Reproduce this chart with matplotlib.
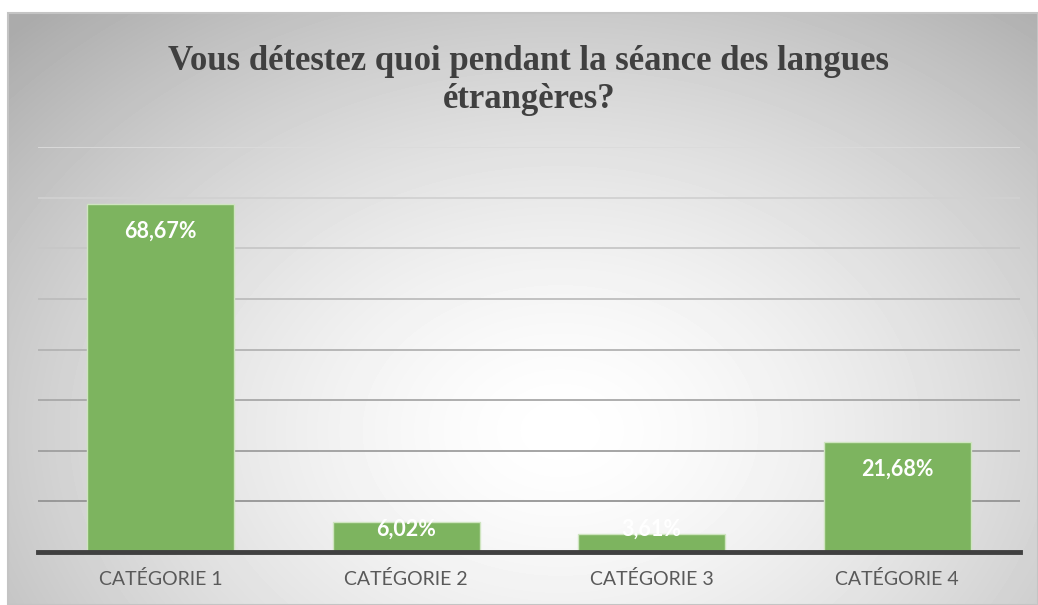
import matplotlib.pyplot as plt
import numpy as np
from matplotlib.patches import Rectangle

categories = ["CATÉGORIE 1", "CATÉGORIE 2", "CATÉGORIE 3", "CATÉGORIE 4"]
percentages = [68.67, 6.02, 3.61, 21.68]
value_labels = ["68,67%", "6,02%", "3,61%", "21,68%"]
title = "Vous détestez quoi pendant la séance des langues\nétrangères?"

W, H = 1038, 605
fig = plt.figure(figsize=(W / 100, H / 100), dpi=100)

# radial grey-to-white background, like the Office chart style
bg = fig.add_axes([0, 0, 1, 1])
bg.axis("off")
yy, xx = np.mgrid[0:H, 0:W]
r = np.sqrt(((xx - 560) / 640) ** 2 + ((yy - 430) / 470) ** 2)
img = 1 - 0.25 * np.clip(r, 0, 1.2) ** 1.5
img[yy < 13] = 1.0
img[xx < 8] = 1.0
bg.imshow(img, cmap="gray", vmin=0, vmax=1, extent=[0, W, H, 0], aspect="auto")
bg.add_patch(Rectangle((8, 13), W - 8, H - 13, fill=False, edgecolor="#c4c4c4", lw=1.5))
bg.set_xlim(0, W)
bg.set_ylim(H, 0)

fig.text(529 / W, 1 - 80 / H, title, ha="center", va="center",
         family="Liberation Serif", fontweight="bold", fontsize=25,
         color="#404040", linespacing=1.2)

ax = fig.add_axes([38 / W, 53 / H, 982 / W, 405 / H])
ax.patch.set_alpha(0)
x = np.arange(len(categories))
ax.bar(x, percentages, width=0.6, color="#7db45f", edgecolor="#cfe5c0", lw=1, zorder=2)
ax.set_xlim(-0.5, len(categories) - 0.5)
ax.set_ylim(0, 80)

# gridlines get lighter towards the top
grid_vals = np.arange(10, 81, 10)
for g in grid_vals:
    t = (g - 10) / 70
    c = 0.58 + 0.28 * t
    ax.axhline(g, color=(c, c, c), lw=1.3, zorder=1)
ax.axhline(0, color="#404040", lw=3.5, zorder=3, clip_on=False)

label_y = np.maximum(np.array(percentages) - 5.3, 4.6)
for xi, yi, lab in zip(x, label_y, value_labels):
    ax.text(xi, yi, lab, ha="center", va="center", color="white",
            family="Lato", fontweight="bold", fontsize=15.5, zorder=4)

ax.set_xticks(x)
ax.set_xticklabels(categories, family="Lato", fontsize=14, color="#595959")
ax.set_yticks([])
ax.tick_params(axis="x", length=0, pad=13)
for s in ax.spines.values():
    s.set_visible(False)

fig.savefig("out.png", dpi=100)
